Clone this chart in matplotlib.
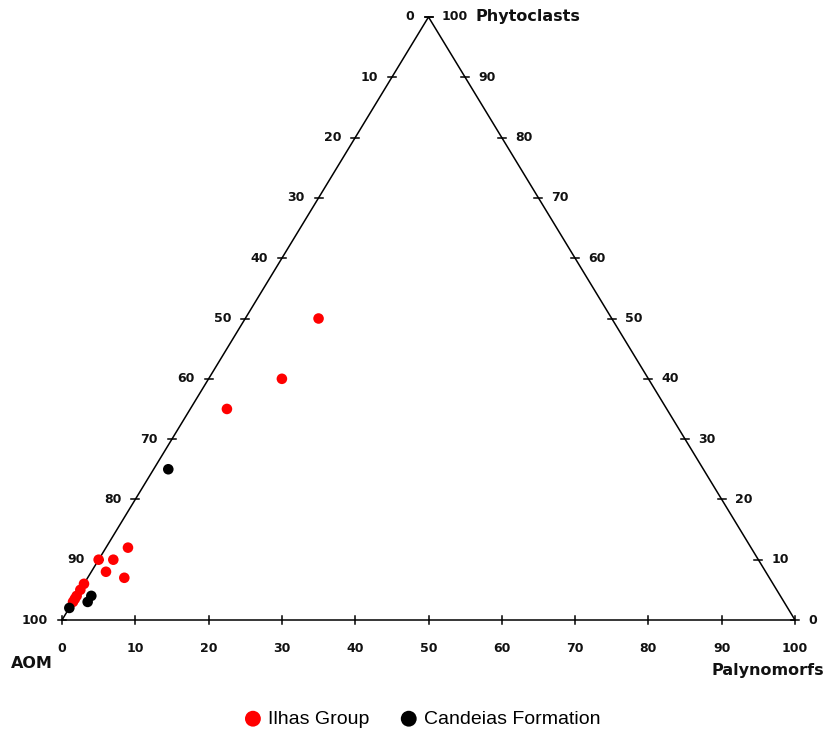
import matplotlib
matplotlib.use("Agg")
import matplotlib.pyplot as plt
import numpy as np

# compositions in percent: Phytoclasts, Palynomorfs, AOM
ilhas_phyto = [50, 40, 35, 12, 10, 10, 8, 7, 6, 5, 4, 3.5, 3]
ilhas_paly = [10, 10, 5, 3, 0, 2, 2, 5, 0, 0, 0, 0, 0]
ilhas_aom = [40, 50, 60, 85, 90, 88, 90, 88, 94, 95, 96, 96.5, 97]

candeias_phyto = [25, 4, 3, 2]
candeias_paly = [2, 2, 2, 0]
candeias_aom = [73, 94, 95, 98]

tick_values = [0, 10, 20, 30, 40, 50, 60, 70, 80, 90, 100]

W, H = 827, 730
fig = plt.figure(figsize=(W / 100, H / 100), dpi=100)
# axes spans the triangle: AOM corner (62,620), Palynomorfs (795,620), apex y=17
ax = fig.add_axes([62 / W, (H - 620) / H, 733 / W, 603 / H])
ax.set_xlim(0, 1)
ax.set_ylim(0, 1)
ax.axis("off")

PX = 1 / 733  # one pixel in x units
PY = 1 / 603  # one pixel in y units


def to_xy(phyto, paly, aom):
    phyto = np.asarray(phyto, float)
    paly = np.asarray(paly, float)
    aom = np.asarray(aom, float)
    tot = phyto + paly + aom
    f, p = phyto / tot, paly / tot
    return p + f / 2, f


# triangle outline
ax.plot([0, 1, 0.5, 0], [0, 0, 1, 0], color="black", lw=1.1, clip_on=False, zorder=1)

lab = dict(fontsize=9, fontweight="bold", color="#111111")
for v in tick_values:
    f = v / 100
    # bottom edge: Palynomorfs
    ax.plot([f, f], [-4 * PY, 4 * PY], color="black", lw=1.1, clip_on=False)
    ax.text(f, -28 * PY, str(v), ha="center", va="center", **lab)
    # left edge: AOM reads 100 at the base, 0 at the apex
    xl, yl = f / 2, f
    ax.plot([xl - 4 * PX, xl + 4 * PX], [yl, yl], color="black", lw=1.1, clip_on=False)
    ax.text(xl - 14 * PX, yl, str(100 - v), ha="right", va="center", **lab)
    # right edge: Phytoclasts
    xr, yr = 1 - f / 2, f
    ax.plot([xr - 4 * PX, xr + 4 * PX], [yr, yr], color="black", lw=1.1, clip_on=False)
    ax.text(xr + 13 * PX, yr, str(v), ha="left", va="center", **lab)

name = dict(fontsize=11.5, fontweight="bold", color="#111111")
ax.text(0.5 + 47 * PX, 1, "Phytoclasts", ha="left", va="center", **name)
ax.text(-51 * PX, -43 * PY, "AOM", ha="left", va="center", **name)
ax.text(1 + 29 * PX, -50 * PY, "Palynomorfs", ha="right", va="center", **name)

x, y = to_xy(ilhas_phyto, ilhas_paly, ilhas_aom)
ax.scatter(x, y, s=58, color="#ff0000", edgecolors="none", zorder=3, clip_on=False,
           label="Ilhas Group")
x, y = to_xy(candeias_phyto, candeias_paly, candeias_aom)
ax.scatter(x, y, s=58, color="black", edgecolors="none", zorder=3, clip_on=False,
           label="Candeias Formation")

leg = fig.legend(loc="center", bbox_to_anchor=(422 / W, 1 - 719 / H), ncol=2,
                 frameon=False, markerscale=1.5, handlelength=1.0, handletextpad=0.3,
                 columnspacing=1.5, prop={"family": "Liberation Sans", "size": 14})

fig.savefig("out.png", dpi=100, facecolor="white")
